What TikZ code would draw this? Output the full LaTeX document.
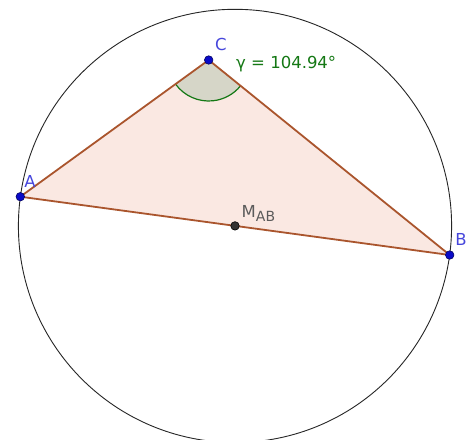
\documentclass[tikz,border=0pt]{standalone}
\usepackage{fontspec}
\setmainfont{DejaVu Sans}
\usetikzlibrary{angles}
\definecolor{edgebrown}{RGB}{170,85,45}
\definecolor{trifill}{RGB}{250,232,226}
\definecolor{angfill}{RGB}{214,214,200}
\definecolor{anggreen}{RGB}{20,120,20}
\definecolor{ptblue}{RGB}{10,10,200}
\definecolor{lblblue}{RGB}{70,70,220}
\definecolor{mgray}{RGB}{50,50,50}
\tikzset{
  ptA/.style={circle,fill=ptblue,draw=ptblue!50!black,line width=0.6pt,inner sep=0pt,minimum size=8.5pt},
  ptM/.style={circle,fill=mgray,draw=black,line width=0.6pt,inner sep=0pt,minimum size=8.5pt},
  lbl/.style={text=lblblue,font=\fontsize{16.5}{18}\selectfont,inner sep=0pt},
  edge/.style={draw=edgebrown,line width=1.8pt,line cap=round}
}
\begin{document}
\begin{tikzpicture}[x=1pt,y=-1pt]
\useasboundingbox (0,0) rectangle (471,439);
\fill[white] (0,0) rectangle (471,439);
\coordinate (A) at (20.3,196.7);
\coordinate (B) at (449.7,255);
\coordinate (C) at (208.7,60);
\coordinate (M) at (235,225.9);
% circumcircle (Thales circle over AB)
\begin{scope}
\clip (0,0) rectangle (471,439);
\draw[black!85,line width=0.9pt] (M) circle[radius=216.6pt];
\end{scope}
% triangle fill
\fill[trifill] (A) -- (B) -- (C) -- cycle;
% angle at C
\pic[fill=angfill,angle radius=41pt] {angle=A--C--B};
\pic[draw=anggreen,line width=1.2pt,angle radius=41pt] {angle=A--C--B};
% edges
\draw[edge] (A) -- (B);
\draw[edge] (B) -- (C);
\draw[edge] (C) -- (A);
% points
\node[ptA] (pA) at (A) {};
\node[ptA] (pB) at (B) {};
\node[ptA] (pC) at (C) {};
\node[ptM] (pM) at (M) {};
% labels
\node[lbl,anchor=base] (lA) at (30,187) {A};
\node[lbl,anchor=base] (lB) at (461,245) {B};
\node[lbl,anchor=base] (lC) at (221,50) {C};
\node[text=anggreen,font=\fontsize{16.5}{18}\selectfont,inner sep=0pt,anchor=base west] (lg) at (236,68) {γ = 104.94°};
\node[text=mgray!80,font=\fontsize{16.5}{18}\selectfont,inner sep=0pt,anchor=base west] (lM) at (241.5,217) {M\raisebox{-4.5pt}{\fontsize{14}{14}\selectfont AB}};
\end{tikzpicture}
\end{document}
